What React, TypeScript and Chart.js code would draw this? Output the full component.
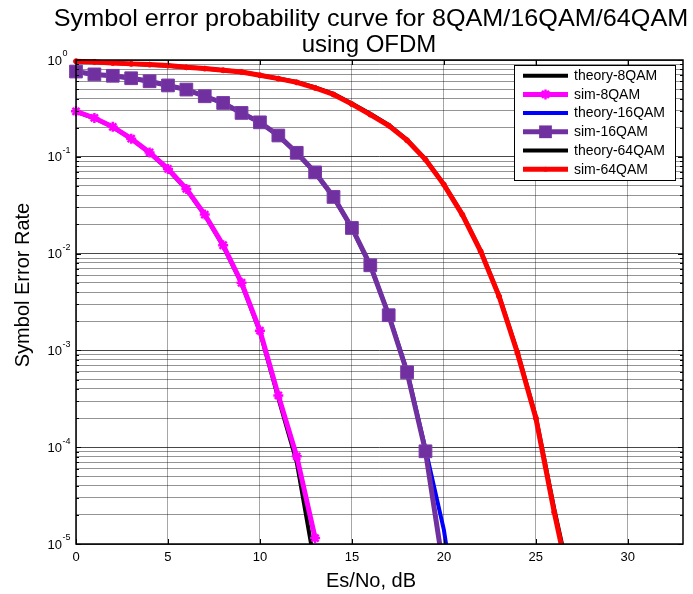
import React, { useEffect, useRef } from 'react';
import { Chart, registerables } from 'chart.js';

Chart.register(...registerables);

// ---------- data ----------
const snr8 = [0, 1, 2, 3, 4, 5, 6, 7, 8, 9, 10, 11, 12, 13];
const theory8 = [0.293, 0.25, 0.203, 0.154, 0.11, 0.074, 0.046, 0.025, 0.012, 0.0049, 0.00155, 3.2e-4, 7.0e-5, 5.8e-6];
const sim8 = [0.295, 0.252, 0.204, 0.154, 0.111, 0.075, 0.0466, 0.0253, 0.0122, 0.005, 0.0016, 3.43e-4, 8.05e-5, 1.15e-5];

const snr16 = [0, 1, 2, 3, 4, 5, 6, 7, 8, 9, 10, 11, 12, 13, 14, 15, 16, 17, 18, 19, 20, 21];
const theory16 = [0.752, 0.71, 0.686, 0.647, 0.601, 0.545, 0.494, 0.42, 0.358, 0.283, 0.226, 0.165, 0.109, 0.068, 0.0383, 0.0183, 0.0075, 0.00234, 6.1e-4, 9.6e-5, 1.4e-5, 8e-7];
const sim16 = [0.76, 0.71, 0.687, 0.648, 0.603, 0.546, 0.495, 0.422, 0.36, 0.284, 0.227, 0.166, 0.11, 0.069, 0.0385, 0.0184, 0.00757, 0.00231, 5.94e-4, 9.07e-5, 5.2e-6];

const snr64 = [0, 1, 2, 3, 4, 5, 6, 7, 8, 9, 10, 11, 12, 13, 14, 15, 16, 17, 18, 19, 20, 21, 22, 23, 24, 25, 26, 27];
const theory64 = [0.969, 0.954, 0.933, 0.912, 0.895, 0.874, 0.84, 0.815, 0.784, 0.754, 0.697, 0.645, 0.592, 0.522, 0.448, 0.356, 0.278, 0.213, 0.15, 0.0945, 0.052, 0.0256, 0.0107, 0.00368, 9.6e-4, 2.06e-4, 2.3e-5, 3.2e-6];
const sim64 = [0.97, 0.955, 0.933, 0.912, 0.896, 0.875, 0.84, 0.815, 0.783, 0.753, 0.695, 0.642, 0.588, 0.515, 0.44, 0.35, 0.273, 0.21, 0.148, 0.0935, 0.0516, 0.0253, 0.01057, 0.00362, 9.4e-4, 2.0e-4, 2.13e-5, 2.8e-6];

const xTickValues = [0, 5, 10, 15, 20, 25, 30];
const yDecades = [-5, -4, -3, -2, -1, 0];
const yTickValues: number[] = (() => {
  const out: number[] = [];
  for (let k = -5; k < 0; k++) for (let m = 1; m <= 9; m++) out.push(m * Math.pow(10, k));
  out.push(1);
  return out;
})();

const titleLines = ['Symbol error probability curve for 8QAM/16QAM/64QAM', 'using OFDM'];
const xLabel = 'Es/No, dB';
const yLabel = 'Symbol Error Rate';

const FONT = '"Liberation Sans", Arial, Helvetica, sans-serif';

const pts = (xs: number[], ys: number[]) => ys.map((y, i) => ({ x: xs[i], y }));

const isDecade = (v: number) => {
  const l = Math.log10(v);
  return Math.abs(l - Math.round(l)) < 1e-6;
};

const decorPlugin = {
  id: 'decor',
  afterDraw(chart: any) {
    const ctx = chart.ctx as CanvasRenderingContext2D;
    const { left, right, top, bottom } = chart.chartArea;
    const xs = chart.scales.x;
    const ys = chart.scales.y;
    ctx.save();
    ctx.strokeStyle = '#000';
    ctx.fillStyle = '#000';
    ctx.lineWidth = 1;
    // inner tick marks
    ctx.beginPath();
    xTickValues.forEach((v) => {
      const px = Math.round(xs.getPixelForValue(v)) + 0.5;
      ctx.moveTo(px, bottom);
      ctx.lineTo(px, bottom - 5);
      ctx.moveTo(px, top);
      ctx.lineTo(px, top + 5);
    });
    yTickValues.forEach((v) => {
      const py = Math.round(ys.getPixelForValue(v)) + 0.5;
      const len = isDecade(v) ? 5 : 3;
      ctx.moveTo(left, py);
      ctx.lineTo(left + len, py);
      ctx.moveTo(right, py);
      ctx.lineTo(right - len, py);
    });
    ctx.stroke();
    // box
    ctx.lineWidth = 1.5;
    ctx.strokeRect(left, top, right - left, bottom - top);

    // y tick labels 10^k
    yDecades.forEach((k) => {
      const py = ys.getPixelForValue(Math.pow(10, k));
      ctx.font = `13px ${FONT}`;
      ctx.textAlign = 'right';
      ctx.textBaseline = 'middle';
      ctx.fillText('10', 62, py + 1);
      ctx.font = `9px ${FONT}`;
      ctx.textAlign = 'left';
      ctx.fillText(String(k), 62.5, py - 6);
    });

    // title
    ctx.textAlign = 'center';
    ctx.textBaseline = 'middle';
    ctx.font = `24px ${FONT}`;
    ctx.save();
    ctx.translate(371, 19);
    ctx.scale(1.05, 1);
    ctx.fillText(titleLines[0], 0, 0);
    ctx.restore();
    ctx.fillText(titleLines[1], 369, 45);

    // axis labels
    ctx.font = `20px ${FONT}`;
    ctx.fillText(xLabel, 371, 581);
    ctx.save();
    ctx.translate(23, 285);
    ctx.rotate(-Math.PI / 2);
    ctx.fillText(yLabel, 0, 0);
    ctx.restore();

    // legend
    const bx = 514, by = 65, bw = 161, bh = 115;
    ctx.fillStyle = '#fff';
    ctx.fillRect(bx, by, bw, bh);
    ctx.strokeStyle = '#000';
    ctx.lineWidth = 1;
    ctx.strokeRect(bx + 0.5, by + 0.5, bw, bh);
    chart.data.datasets.forEach((ds: any, i: number) => {
      const y = 75.7 + i * 18.7;
      ctx.strokeStyle = ds.borderColor;
      ctx.lineWidth = ds.borderWidth;
      ctx.lineCap = 'butt';
      ctx.beginPath();
      ctx.moveTo(523, y);
      ctx.lineTo(568, y);
      ctx.stroke();
      const cx = 545.5;
      if (ds.pointStyle === 'rect' && ds.pointRadius > 0) {
        const s = ds.pointRadius * Math.SQRT1_2;
        ctx.fillStyle = ds.pointBackgroundColor;
        ctx.fillRect(cx - s, y - s, 2 * s, 2 * s);
      } else if (ds.pointStyle === 'star' && ds.pointRadius > 0) {
        ctx.strokeStyle = ds.pointBorderColor;
        ctx.lineWidth = ds.pointBorderWidth;
        const r = ds.pointRadius;
        ctx.beginPath();
        for (let a = 0; a < 4; a++) {
          const ang = (a * Math.PI) / 4;
          ctx.moveTo(cx - r * Math.cos(ang), y - r * Math.sin(ang));
          ctx.lineTo(cx + r * Math.cos(ang), y + r * Math.sin(ang));
        }
        ctx.stroke();
      } else if (ds.pointStyle === 'circle' && ds.pointRadius > 0) {
        ctx.fillStyle = ds.pointBackgroundColor;
        ctx.beginPath();
        ctx.arc(cx, y, ds.pointRadius, 0, Math.PI * 2);
        ctx.fill();
      }
      ctx.fillStyle = '#000';
      ctx.font = `14px ${FONT}`;
      ctx.textAlign = 'left';
      ctx.textBaseline = 'middle';
      ctx.fillText(ds.label, 574, y + 0.5);
    });
    ctx.restore();
  },
};

export default function App() {
  const ref = useRef<HTMLCanvasElement | null>(null);

  useEffect(() => {
    if (!ref.current) return;
    const clip = { left: 12, top: 8, right: 8, bottom: 0 };
    const theory = (label: string, color: string, xs: number[], ys: number[]) => ({
      label,
      data: pts(xs, ys),
      borderColor: color,
      backgroundColor: color,
      borderWidth: 4,
      pointRadius: 0,
      pointStyle: 'circle',
      tension: 0,
      order: 2,
      clip,
    });
    const chart = new Chart(ref.current, {
      type: 'line',
      data: {
        datasets: [
          theory('theory-8QAM', '#000000', snr8, theory8),
          {
            label: 'sim-8QAM',
            data: pts(snr8, sim8),
            borderColor: '#ff00ff',
            backgroundColor: '#ff00ff',
            borderWidth: 5,
            pointStyle: 'star',
            pointRadius: 5,
            pointBorderWidth: 2.5,
            pointBorderColor: '#ff00ff',
            pointBackgroundColor: '#ff00ff',
            tension: 0,
            order: 1,
            clip,
          } as any,
          theory('theory-16QAM', '#0000ff', snr16, theory16),
          {
            label: 'sim-16QAM',
            data: pts(snr16, sim16),
            borderColor: '#7030a0',
            backgroundColor: '#7030a0',
            borderWidth: 5,
            pointStyle: 'rect',
            pointRadius: 9,
            pointBorderWidth: 1,
            pointBorderColor: '#7a3aa6',
            pointBackgroundColor: '#7030a0',
            tension: 0,
            order: 1,
            clip,
          } as any,
          theory('theory-64QAM', '#000000', snr64, theory64),
          {
            label: 'sim-64QAM',
            data: pts(snr64, sim64),
            borderColor: '#ff0000',
            backgroundColor: '#ff0000',
            borderWidth: 5,
            pointStyle: 'circle',
            pointRadius: 2.5,
            pointBorderWidth: 1,
            pointBorderColor: '#ff0000',
            pointBackgroundColor: '#ff0000',
            tension: 0,
            order: 1,
            clip,
          } as any,
        ],
      },
      options: {
        responsive: false,
        animation: false,
        events: [],
        layout: { padding: { top: 60, right: 9, left: 0, bottom: 0 } },
        plugins: {
          legend: { display: false },
          tooltip: { enabled: false },
          title: { display: false },
        },
        scales: {
          x: {
            type: 'linear',
            min: 0,
            max: 33,
            afterBuildTicks: (scale: any) => {
              scale.ticks = xTickValues.map((v) => ({ value: v }));
            },
            afterFit: (scale: any) => {
              scale.height = 50;
            },
            grid: { color: 'rgba(0,0,0,0.35)', drawTicks: false, lineWidth: 1 },
            border: { display: false },
            ticks: {
              color: '#000',
              padding: 6,
              maxRotation: 0,
              font: { family: FONT, size: 13 },
              callback: (v: any) => String(v),
            },
          },
          y: {
            type: 'logarithmic',
            min: 1e-5,
            max: 1,
            afterBuildTicks: (scale: any) => {
              scale.ticks = yTickValues.map((v) => ({ value: v }));
            },
            afterFit: (scale: any) => {
              scale.width = 76;
            },
            grid: {
              color: (c: any) => (c.tick && isDecade(c.tick.value) ? 'rgba(0,0,0,0.72)' : 'rgba(0,0,0,0.42)'),
              drawTicks: false,
              lineWidth: 1,
            },
            border: { display: false },
            ticks: { display: false },
          },
        },
      },
      plugins: [decorPlugin],
    } as any);
    return () => chart.destroy();
  }, []);

  return (
    <div style={{ position: 'fixed', left: 0, top: 0, width: 693, height: 594, background: '#fff' }}>
      <canvas ref={ref} width={693} height={594} style={{ display: 'block', width: 693, height: 594 }} />
    </div>
  );
}
